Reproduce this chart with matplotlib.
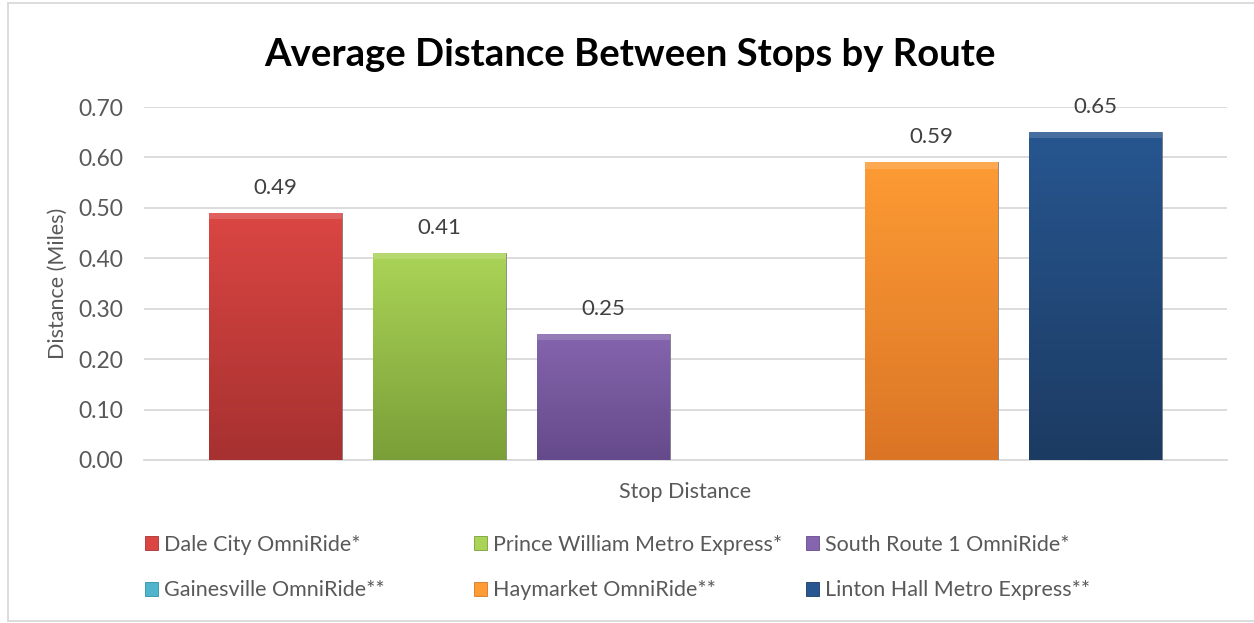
import numpy as np
import matplotlib

matplotlib.use("Agg")
import matplotlib.pyplot as plt
from matplotlib.colors import LinearSegmentedColormap
from matplotlib.patches import Patch
from matplotlib.lines import Line2D

# data
routes = [
    "Dale City OmniRide*",
    "Prince William Metro Express*",
    "South Route 1 OmniRide*",
    "Gainesville OmniRide**",
    "Haymarket OmniRide**",
    "Linton Hall Metro Express**",
]
distance_miles = [0.49, 0.41, 0.25, np.nan, 0.59, 0.65]
category = "Stop Distance"
y_ticks = [0.0, 0.1, 0.2, 0.3, 0.4, 0.5, 0.6, 0.7]

# (top, bottom) gradient colours per series
top_colors = ["#db4643", "#aad457", "#8565ae", "#4fb4cc", "#fd9b34", "#275690"]
bottom_colors = ["#a63130", "#7a9f38", "#654a8b", "#2f8fa8", "#db7526", "#1c3b62"]

plt.rcParams["font.family"] = ["Lato", "DejaVu Sans"]
TXT = "#595959"

W, H = 1254, 623
fig = plt.figure(figsize=(W / 100, H / 100), dpi=100)

# plot area in pixels: x 144..1227, y 107..460
ax = fig.add_axes([144 / W, 1 - 460 / H, (1227 - 144) / W, (460 - 107) / H])

n = len(routes)
bar_w = 133 / 164
offsets = np.arange(n) - (n - 1) / 2

bars = ax.bar(offsets, distance_miles, width=bar_w, color=top_colors,
              edgecolor="#707070", linewidth=0.5, zorder=3)

# gradient fill clipped to each bar, plus a faint bevel on top
for patch, c_top, c_bot, v in zip(bars.patches, top_colors, bottom_colors, distance_miles):
    if np.isnan(v):
        continue
    x0, bw = patch.get_x(), patch.get_width()
    cmap = LinearSegmentedColormap.from_list("g", [c_bot, c_top])
    grad = np.linspace(0, 1, 256).reshape(-1, 1)
    im = ax.imshow(grad, cmap=cmap, origin="lower", aspect="auto",
                   extent=[x0, x0 + bw, 0, v], zorder=3.5)
    im.set_clip_path(patch)
    ax.fill_between([x0, x0 + bw], v - 0.012, v, color="white", alpha=0.15,
                    lw=0, zorder=4)

labels = ["" if np.isnan(v) else f"{v:.2f}" for v in distance_miles]
ax.bar_label(bars, labels=labels, padding=11, fontsize=16, color="#404040")

half = (1227 - 144) / 2 / 164
ax.set_xlim(-half, half)
ax.set_ylim(0, 0.70)
ax.set_yticks(y_ticks)
ax.set_yticklabels([f"{t:.2f}" for t in y_ticks])
ax.set_xticks([])
ax.tick_params(axis="y", length=0, pad=15, labelsize=16.5, labelcolor=TXT)
ax.yaxis.grid(True, color="#d9d9d9", lw=1.3, zorder=0)
ax.set_axisbelow(True)
for side in ["top", "right", "left"]:
    ax.spines[side].set_visible(False)
ax.spines["bottom"].set_color("#d9d9d9")
ax.spines["bottom"].set_linewidth(1.3)

ax.set_ylabel("Distance (Miles)", fontsize=15.5, color=TXT)
ax.yaxis.set_label_coords((58 - 144) / 1083, 0.5)
ax.yaxis.label.set_va("center")
ax.set_xlabel(category, fontsize=15.5, color=TXT)
ax.xaxis.set_label_coords(0.5, -(492 - 460) / 353)
ax.xaxis.label.set_va("center")

fig.text(630 / W, 1 - 55 / H, "Average Distance Between Stops by Route",
         ha="center", va="center", fontsize=27.5, fontweight="bold", color="black")

# page heading above the chart, cropped so only descenders peek in
fig.text(6 / W, 1 + 5 / H, "Figure 5: Average Distance Between Stops by Route",
         ha="left", va="baseline", fontsize=21, fontweight="bold", color="black")

# chart frame
fig.add_artist(Line2D([8 / W, 8 / W], [1 - 3 / H, 1 - 621 / H], color="#d9d9d9", lw=1.3))
fig.add_artist(Line2D([8 / W, 1.0], [1 - 3 / H, 1 - 3 / H], color="#d9d9d9", lw=1.3))
fig.add_artist(Line2D([8 / W, 1.0], [1 - 621 / H, 1 - 621 / H], color="#d9d9d9", lw=1.3))

# legend: three columns, two rows
handles = [Patch(facecolor=c, edgecolor=b, linewidth=0.6) for c, b in zip(top_colors, bottom_colors)]
col_x = [145, 474, 806]
for col in range(3):
    idx = [col, col + 3]
    fig.legend([handles[i] for i in idx], [routes[i] for i in idx],
               loc="upper left", bbox_to_anchor=(col_x[col] / W, 1 - 535 / H),
               frameon=False, fontsize=15.5, labelcolor=TXT,
               handlelength=0.62, handleheight=0.62, handletextpad=0.25,
               labelspacing=1.18, borderpad=0, borderaxespad=0)

fig.savefig("out.png", dpi=100)
